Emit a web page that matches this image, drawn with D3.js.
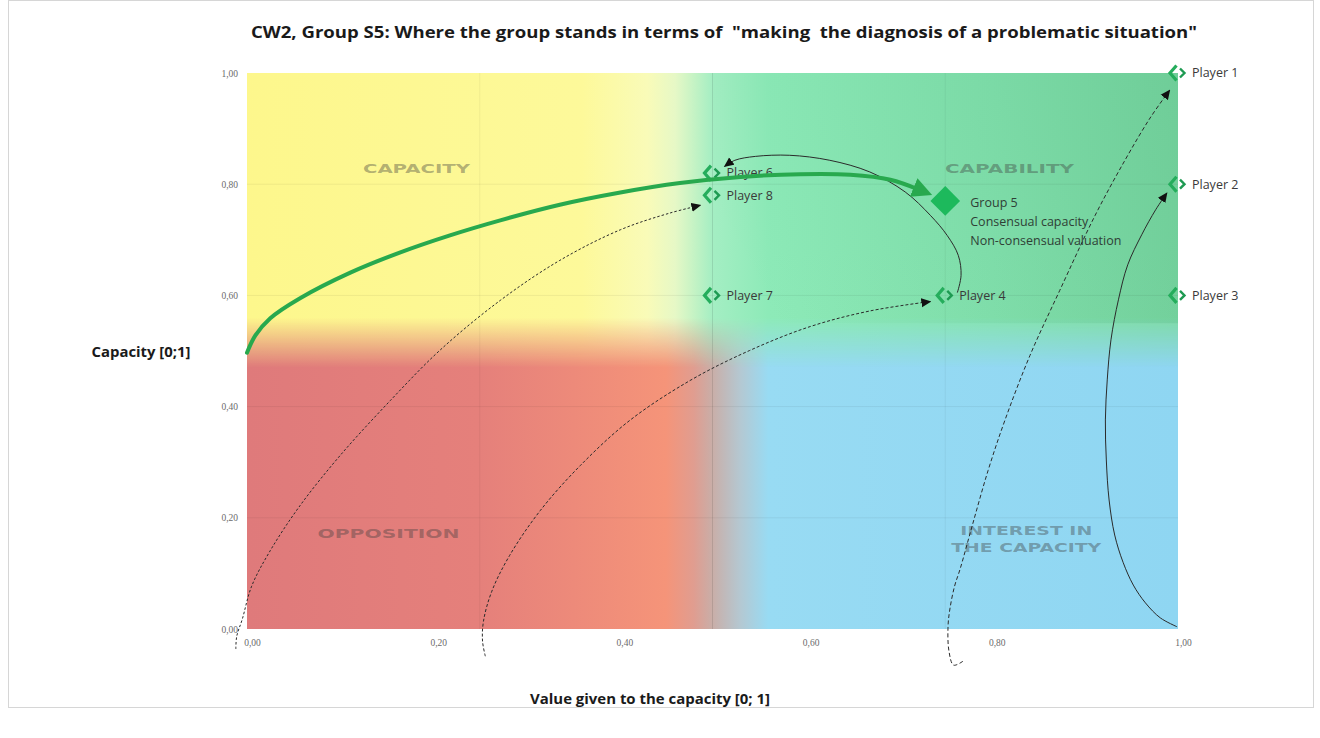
<!DOCTYPE html>
<html>
<head>
<meta charset="utf-8">
<script src="https://cdn.jsdelivr.net/npm/d3@7"></script>
<style>
  body { margin: 0; background: #fff; }
  svg { display: block; }
</style>
</head>
<body>
<div id="chart"></div>
<script>
const width = 1320;
const height = 738;

// axis ticks
const xTickValues = [0, 0.2, 0.4, 0.6, 0.8, 1];
const yTickValues = [0, 0.2, 0.4, 0.6, 0.8, 1];

// players: value given to the capacity (x) and capacity (y)
const playerNames = ["Player 1", "Player 2", "Player 3", "Player 4", "Player 6", "Player 7", "Player 8"];
const playerValue = [1.00, 1.00, 1.00, 0.75, 0.50, 0.50, 0.50];
const playerCapacity = [1.00, 0.80, 0.60, 0.60, 0.82, 0.60, 0.78];

// the group
const groupLines = ["Group 5", "Consensual capacity", "Non-consensual valuation"];
const groupValue = 0.75;
const groupCapacity = 0.77;

// quadrant names
const zoneNames = [["CAPACITY"], ["CAPABILITY"], ["OPPOSITION"], ["INTEREST IN", "THE CAPACITY"]];

// movement arrows, [value, capacity]
const groupPath = [[0, 0.497], [0.009, 0.528], [0.025, 0.559], [0.057, 0.595], [0.111, 0.641], [0.164, 0.677],
  [0.218, 0.708], [0.272, 0.735], [0.336, 0.763], [0.401, 0.785], [0.465, 0.802], [0.530, 0.813],
  [0.594, 0.818], [0.648, 0.817], [0.691, 0.808], [0.722, 0.790]];
const pathP8 = [[-0.012, -0.036], [-0.011, -0.013], [-0.005, 0.018], [0.005, 0.077], [0.025, 0.141], [0.057, 0.222],
  [0.100, 0.312], [0.154, 0.411], [0.207, 0.501], [0.272, 0.591], [0.336, 0.663], [0.401, 0.718],
  [0.454, 0.748], [0.487, 0.762]];
const pathP4 = [[0.256, -0.049], [0.253, -0.022], [0.254, 0.014], [0.263, 0.068], [0.282, 0.132], [0.315, 0.213],
  [0.358, 0.294], [0.411, 0.375], [0.476, 0.447], [0.540, 0.501], [0.605, 0.544], [0.669, 0.572],
  [0.734, 0.589]];
const pathP6 = [[0.763, 0.605], [0.767, 0.636], [0.764, 0.672], [0.752, 0.708], [0.734, 0.744], [0.707, 0.786],
  [0.669, 0.822], [0.626, 0.843], [0.583, 0.852], [0.546, 0.850], [0.524, 0.843], [0.513, 0.832]];
const pathP1 = [[0.769, -0.058], [0.759, -0.065], [0.754, -0.040], [0.753, 0.005], [0.755, 0.036], [0.760, 0.077],
  [0.766, 0.108], [0.779, 0.186], [0.796, 0.285], [0.814, 0.375], [0.841, 0.492], [0.873, 0.609],
  [0.911, 0.744], [0.943, 0.843], [0.970, 0.919], [0.991, 0.969]];
const pathP2 = [[0.999, 0.004], [0.981, 0.020], [0.965, 0.047], [0.952, 0.079], [0.941, 0.120], [0.932, 0.169],
  [0.926, 0.232], [0.923, 0.304], [0.922, 0.376], [0.924, 0.448], [0.928, 0.520], [0.936, 0.592],
  [0.946, 0.655], [0.961, 0.709], [0.976, 0.754], [0.988, 0.784]];

const fmt = d => d3.format(".2f")(d).replace(".", ",");

const svg = d3.select("#chart")
  .append("svg")
  .attr("width", width)
  .attr("height", height);

const x = d3.scaleLinear().domain([0, 1]).range([247, 1178]);
const y = d3.scaleLinear().domain([0, 1]).range([629, 73]);

// frame
svg.append("rect")
  .attr("x", 8.5).attr("y", 0.5)
  .attr("width", 1305).attr("height", 707)
  .attr("fill", "none")
  .attr("stroke", "#d6d6d6");

const defs = svg.append("defs");

function hGradient(id, stops) {
  const g = defs.append("linearGradient")
    .attr("id", id)
    .attr("gradientUnits", "userSpaceOnUse")
    .attr("x1", x(0)).attr("x2", x(1))
    .attr("y1", 0).attr("y2", 0);
  stops.forEach(s => g.append("stop").attr("offset", s[0]).attr("stop-color", s[1]));
}

hGradient("bottomFill", [[0, "#df7a7b"], [0.25, "#e5807b"], [0.45, "#f59479"], [0.48, "#e09d90"],
  [0.5, "#c9aea8"], [0.53, "#b4c8d2"], [0.56, "#98dbf3"], [1, "#8fd6f2"]]);
hGradient("topFill", [[0, "#fdf78c"], [0.36, "#fdf99a"], [0.43, "#f9fbb8"], [0.46, "#e6f8c6"],
  [0.5, "#a4eec3"], [0.56, "#8deab8"], [0.8, "#86e3b0"], [1, "#7fdaa6"]]);

// vertical fade of the upper half into the lower half
const fade = defs.append("linearGradient")
  .attr("id", "fade")
  .attr("gradientUnits", "userSpaceOnUse")
  .attr("x1", 0).attr("x2", 0)
  .attr("y1", y(0.56)).attr("y2", y(0.47));
fade.append("stop").attr("offset", 0).attr("stop-color", "#fff");
fade.append("stop").attr("offset", 1).attr("stop-color", "#000");
defs.append("mask").attr("id", "topMask")
  .append("rect")
  .attr("x", x(0)).attr("y", y(1))
  .attr("width", x(1) - x(0)).attr("height", y(0.4) - y(1))
  .attr("fill", "url(#fade)");

// darker green towards the top right
const shade = defs.append("linearGradient")
  .attr("id", "shade")
  .attr("gradientUnits", "userSpaceOnUse")
  .attr("x1", x(0.55)).attr("y1", y(0.6))
  .attr("x2", x(1)).attr("y2", y(1));
shade.append("stop").attr("offset", 0).attr("stop-color", "#1a8a50").attr("stop-opacity", 0);
shade.append("stop").attr("offset", 1).attr("stop-color", "#1a8a50").attr("stop-opacity", 0.16);

const plot = svg.append("g");
plot.append("rect")
  .attr("x", x(0)).attr("y", y(1))
  .attr("width", x(1) - x(0)).attr("height", y(0) - y(1))
  .attr("fill", "url(#bottomFill)");
plot.append("rect")
  .attr("x", x(0)).attr("y", y(1))
  .attr("width", x(1) - x(0)).attr("height", y(0.4) - y(1))
  .attr("fill", "url(#topFill)")
  .attr("mask", "url(#topMask)");
plot.append("rect")
  .attr("x", x(0.5)).attr("y", y(1))
  .attr("width", x(1) - x(0.5)).attr("height", y(0.55) - y(1))
  .attr("fill", "url(#shade)");

// faint grid
plot.selectAll("line.hgrid")
  .data([0.2, 0.4, 0.6, 0.8])
  .join("line")
  .attr("class", "hgrid")
  .attr("x1", x(0)).attr("x2", x(1))
  .attr("y1", d => y(d)).attr("y2", d => y(d))
  .attr("stroke", "#000").attr("stroke-opacity", 0.06);
plot.selectAll("line.vgrid")
  .data([0.25, 0.5, 0.75])
  .join("line")
  .attr("class", "vgrid")
  .attr("x1", d => x(d)).attr("x2", d => x(d))
  .attr("y1", y(0)).attr("y2", y(1))
  .attr("stroke", "#000").attr("stroke-opacity", d => d === 0.5 ? 0.1 : 0.05);

// axes
const xAxis = svg.append("g")
  .attr("transform", `translate(0,${y(0)})`)
  .call(d3.axisBottom(x).tickValues(xTickValues).tickSize(0).tickPadding(10).tickFormat(fmt));
const yAxis = svg.append("g")
  .attr("transform", `translate(${x(0)},0)`)
  .call(d3.axisLeft(y).tickValues(yTickValues).tickSize(0).tickPadding(9).tickFormat(fmt));
[xAxis, yAxis].forEach(a => {
  a.select(".domain").remove();
  a.selectAll("text")
    .attr("fill", "#6b6b6b")
    .style("font-family", "Liberation Serif, serif")
    .style("font-size", "9.5px");
});
xAxis.selectAll("text").attr("dx", 5);

// quadrant names
const zonePos = [[0.182, 0.829], [0.819, 0.829], [0.152, 0.171], [0.837, 0.178]];
const zoneWidth = [[107], [129], [142], [132, 150]];
zoneNames.forEach((lines, i) => {
  lines.forEach((t, j) => {
    svg.append("text")
      .attr("x", x(zonePos[i][0]))
      .attr("y", y(zonePos[i][1]) + j * 17)
      .attr("text-anchor", "middle")
      .attr("dominant-baseline", "central")
      .attr("textLength", zoneWidth[i][j])
      .attr("lengthAdjust", "spacingAndGlyphs")
      .attr("fill", "#3c3c3c")
      .attr("fill-opacity", 0.4)
      .style("font-family", "DejaVu Sans, sans-serif")
      .style("font-weight", "bold")
      .style("font-size", "13px")
      .text(t);
  });
});

// arrow heads
defs.append("marker")
  .attr("id", "arrowBlack")
  .attr("viewBox", "0 -5 10 10")
  .attr("refX", 9).attr("refY", 0)
  .attr("markerUnits", "userSpaceOnUse")
  .attr("markerWidth", 10).attr("markerHeight", 10)
  .attr("orient", "auto")
  .append("path")
  .attr("d", "M0,-4.5L10,0L0,4.5Z")
  .attr("fill", "#111");
defs.append("marker")
  .attr("id", "arrowGreen")
  .attr("viewBox", "0 -5 10 10")
  .attr("refX", 3).attr("refY", 0)
  .attr("markerUnits", "userSpaceOnUse")
  .attr("markerWidth", 20).attr("markerHeight", 20)
  .attr("orient", "auto")
  .append("path")
  .attr("d", "M0,-5L10,0L0,5Z")
  .attr("fill", "#28a94e");

const line = d3.line()
  .x(d => x(d[0]))
  .y(d => y(d[1]))
  .curve(d3.curveCatmullRom);

const thinPaths = [
  { pts: pathP8, dash: "2.5,2" },
  { pts: pathP4, dash: "3,2" },
  { pts: pathP6, dash: null },
  { pts: pathP1, dash: "4,2.5" },
  { pts: pathP2, dash: null }
];
svg.selectAll("path.move")
  .data(thinPaths)
  .join("path")
  .attr("class", "move")
  .attr("d", d => line(d.pts))
  .attr("fill", "none")
  .attr("stroke", "#2a2a2a")
  .attr("stroke-width", 1)
  .attr("stroke-dasharray", d => d.dash)
  .attr("marker-end", "url(#arrowBlack)");

// players
const players = playerNames.map((name, i) => ({ name, v: playerValue[i], c: playerCapacity[i] }));
const pg = svg.selectAll("g.player")
  .data(players)
  .join("g")
  .attr("class", "player")
  .attr("transform", d => `translate(${x(d.v)},${y(d.c)})`);
pg.append("path")
  .attr("d", "M-1.5,-7.5L-8,0L-1.5,7.5")
  .attr("fill", "none")
  .attr("stroke", "#25ad5c")
  .attr("stroke-width", 3.2);
pg.append("path")
  .attr("d", "M2,-4.5L6.5,0L2,4.5")
  .attr("fill", "none")
  .attr("stroke", "#1e9a52")
  .attr("stroke-width", 2.4);
pg.append("text")
  .attr("x", 14)
  .attr("dy", "0.35em")
  .attr("fill", "#3a3a3a")
  .style("font-family", "Open Sans, sans-serif")
  .style("font-size", "12.5px")
  .text(d => d.name);

// group movement (thick green arrow)
svg.append("path")
  .attr("d", line(groupPath))
  .attr("fill", "none")
  .attr("stroke", "#28a94e")
  .attr("stroke-width", 4)
  .attr("stroke-linecap", "round")
  .attr("marker-end", "url(#arrowGreen)");

// group 5 marker
svg.append("path")
  .attr("transform", `translate(${x(groupValue)},${y(groupCapacity)})`)
  .attr("d", d3.symbol(d3.symbolDiamond2, 560)())
  .attr("fill", "#1db95c");
svg.selectAll("text.group")
  .data(groupLines)
  .join("text")
  .attr("class", "group")
  .attr("x", x(groupValue) + 25)
  .attr("y", (d, i) => y(groupCapacity) + 2 + i * 19)
  .attr("dy", "0.35em")
  .attr("fill", "#2f3f36")
  .style("font-family", "Open Sans, sans-serif")
  .style("font-size", "12.5px")
  .text(d => d);

// titles
svg.append("text")
  .attr("x", 724).attr("y", 38)
  .attr("text-anchor", "middle")
  .attr("textLength", 946)
  .attr("lengthAdjust", "spacingAndGlyphs")
  .attr("fill", "#1a1a1a")
  .style("white-space", "pre")
  .style("font-family", "Open Sans, sans-serif")
  .style("font-weight", "bold")
  .style("font-size", "15.5px")
  .text('CW2, Group S5: Where the group stands in terms of  "making  the diagnosis of a problematic situation"');

svg.append("text")
  .attr("x", 141).attr("y", 357)
  .attr("text-anchor", "middle")
  .attr("textLength", 99)
  .attr("lengthAdjust", "spacingAndGlyphs")
  .attr("fill", "#1a1a1a")
  .style("font-family", "Open Sans, sans-serif")
  .style("font-weight", "bold")
  .style("font-size", "13.5px")
  .text("Capacity [0;1]");

svg.append("text")
  .attr("x", 650).attr("y", 704)
  .attr("text-anchor", "middle")
  .attr("textLength", 240)
  .attr("lengthAdjust", "spacingAndGlyphs")
  .attr("fill", "#1a1a1a")
  .style("font-family", "Open Sans, sans-serif")
  .style("font-weight", "bold")
  .style("font-size", "13.5px")
  .text("Value given to the capacity [0; 1]");
</script>
</body>
</html>
